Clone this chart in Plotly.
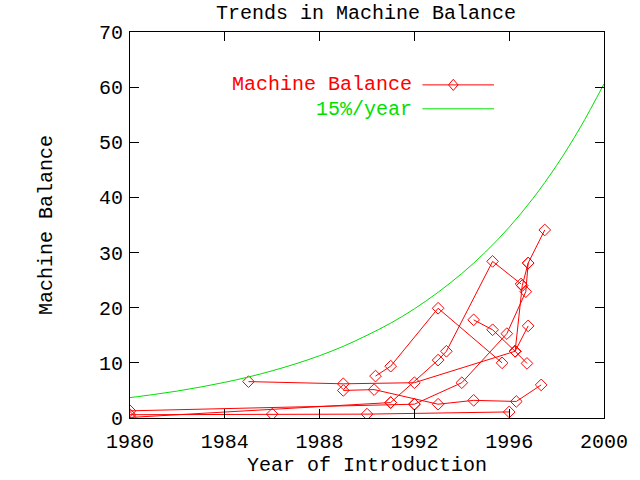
import plotly.graph_objects as go

# ---- data ----
# Machine balance points; None separates vendor families (gnuplot blank lines)
mb_year = [1985.0, 1989.0, 1992.0, 1996.25, 1996.55, 1996.8, None,
           1996.25, 1996.8, None,
           1989.0, 1990.3, 1993.0, 1994.5, 1996.3, 1997.35, None,
           1980.0, 1986.0, 1990.0, 1996.0, None,
           1990.36, 1991.0, 1993.0, 1995.7, None,
           1994.5, 1995.3, 1996.25, 1996.75, None,
           1991.0, 1993.0, 1993.35, 1995.3, 1996.5, None,
           1992.0, 1994.0, 1995.9, 1996.7, 1996.8, 1997.5, None,
           1980.0, 1991.0, None,
           1980.0, 1992.0]
mb_value = [6.6, 6.2, 6.4, 12.1, 24.0, 28.1, None,
            12.1, 16.7, None,
            5.0, 5.15, 2.5, 3.2, 3.0, 6.0, None,
            0.6, 0.7, 0.7, 1.1, None,
            7.6, 9.4, 19.9, 10.0, None,
            17.8, 16.0, 12.1, 9.9, None,
            2.8, 10.5, 12.1, 28.4, 24.3, None,
            2.5, 6.4, 15.3, 22.9, 28.1, 34.1, None,
            0.1, 2.8, None,
            1.3, 2.5]

trend_year = [1980, 1981, 1982, 1983, 1984, 1985, 1986, 1987, 1988, 1989, 1990,
              1991, 1992, 1993, 1994, 1995, 1996, 1997, 1998, 1999, 2000]
trend_value = [3.7, 4.26, 4.89, 5.63, 6.47, 7.44, 8.56, 9.84, 11.3, 13.0, 15.0,
               17.2, 19.8, 22.8, 26.2, 30.1, 34.6, 39.8, 45.8, 52.7, 60.6]

x_ticks = [1980, 1984, 1988, 1992, 1996, 2000]
y_ticks = [0, 10, 20, 30, 40, 50, 60, 70]

RED = "#ff0000"
GREEN = "#00e000"
FONT = "Liberation Mono"
FS = 20

fig = go.Figure()
fig.add_trace(go.Scatter(
    x=mb_year, y=mb_value, mode="lines+markers", name="Machine Balance",
    line=dict(color=RED, width=1),
    marker=dict(symbol="diamond-open", size=9, color=RED, line=dict(width=1, color=RED)),
    connectgaps=False, showlegend=False))
fig.add_trace(go.Scatter(
    x=trend_year, y=trend_value, mode="lines", name="15%/year",
    line=dict(color=GREEN, width=1, shape="spline"), showlegend=False))

# legend drawn gnuplot-style: text right-aligned, sample to the right
fig.add_annotation(x=0.600, y=0.865, xref="paper", yref="paper", text="Machine Balance",
                   showarrow=False, xanchor="right", yanchor="middle",
                   font=dict(family=FONT, size=FS, color=RED))
fig.add_annotation(x=0.600, y=0.799, xref="paper", yref="paper", text="15%/year",
                   showarrow=False, xanchor="right", yanchor="middle",
                   font=dict(family=FONT, size=FS, color=GREEN))
fig.add_shape(type="line", xref="paper", yref="paper", x0=0.617, x1=0.768,
              y0=0.863, y1=0.863, line=dict(color=RED, width=1))
fig.add_shape(type="path", xref="paper", yref="paper",
              path="M 0.672,0.863 L 0.682,0.8775 L 0.692,0.863 L 0.682,0.8485 Z",
              line=dict(color=RED, width=1), fillcolor="rgba(0,0,0,0)")
fig.add_shape(type="line", xref="paper", yref="paper", x0=0.617, x1=0.768,
              y0=0.801, y1=0.801, line=dict(color=GREEN, width=1))

axis_common = dict(showline=True, linecolor="black", linewidth=1, mirror="ticks",
                   ticks="inside", ticklen=9, tickcolor="black", tickwidth=1,
                   showgrid=False, zeroline=False,
                   tickfont=dict(family=FONT, size=FS, color="black"))
fig.update_xaxes(range=[1980, 2000], tickvals=x_ticks, ticklabelstandoff=5,
                 title=dict(text="Year of Introduction", font=dict(family=FONT, size=FS, color="black"),
                            standoff=0), **axis_common)
fig.update_yaxes(range=[0, 70], tickvals=y_ticks, ticklabelstandoff=2,
                 title=dict(text="Machine Balance", font=dict(family=FONT, size=FS, color="black"),
                            standoff=40), **axis_common)

fig.update_layout(
    width=640, height=480,
    margin=dict(l=130, r=35, t=32, b=54),
    paper_bgcolor="white", plot_bgcolor="white",
    title=dict(text="Trends in Machine Balance", x=0.572, xanchor="center", y=0.975, yanchor="middle",
               font=dict(family=FONT, size=FS, color="black")),
    showlegend=False)

# remove the browser's default 8px page margin so the 640x480 figure fills the window
fig.write_html("out.html", config={"displayModeBar": False},
               post_script="document.body.style.margin='0';")
